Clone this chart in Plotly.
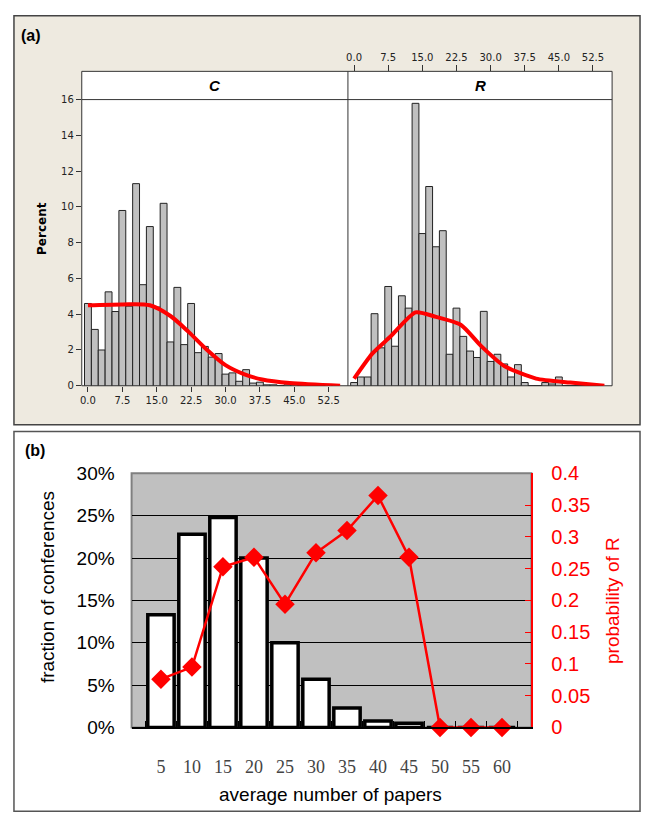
import plotly.graph_objects as go

W, H = 647, 827

# ---------------- panel (a) data ----------------
bin_centers = [0.0, 1.5, 3.0, 4.5, 6.0, 7.5, 9.0, 10.5, 12.0, 13.5, 15.0, 16.5, 18.0,
               19.5, 21.0, 22.5, 24.0, 25.5, 27.0, 28.5, 30.0, 31.5, 33.0, 34.5, 36.0,
               37.5, 39.0, 40.5, 42.0, 43.5, 45.0, 46.5, 48.0, 49.5, 51.0, 52.5, 54.0]
pct_C = [4.6, 3.15, 2.0, 5.25, 4.15, 9.8, 4.45, 11.3, 5.65, 8.9, 4.4, 10.2, 2.45,
         5.5, 2.3, 4.6, 1.85, 2.2, 1.6, 1.8, 0.65, 0.72, 0.25, 0.9, 0.15,
         0.2, 0.05, 0.05, 0.0, 0.05, 0.05, 0.0, 0.0, 0.0, 0.0, 0.05, 0.05]
pct_R = [0.18, 0.49, 0.49, 4.03, 2.12, 5.55, 2.21, 5.03, 4.34, 15.79, 8.51, 11.14, 7.77,
         8.67, 1.76, 4.34, 2.76, 1.94, 1.58, 4.16, 1.36, 1.76, 1.22, 0.49, 1.18,
         0.18, 0.0, 0.0, 0.18, 0.1, 0.49, 0.0, 0.0, 0.0, 0.0, 0.0, 0.0]
curve_C_x = [0.0, 7.5, 13.5, 18.0, 22.0, 26.0, 30.0, 34.0, 38.0, 44.0, 55.0]
curve_C_y = [4.5, 4.55, 4.5, 3.9, 3.0, 2.0, 1.15, 0.65, 0.35, 0.15, 0.0]
curve_R_x = [0.0, 4.0, 8.0, 13.5, 18.0, 23.5, 28.0, 33.0, 40.0, 47.5, 55.0]
curve_R_y = [0.4, 1.8, 2.75, 4.1, 3.85, 3.4, 2.2, 1.1, 0.4, 0.18, 0.0]
ticks_a = [0.0, 7.5, 15.0, 22.5, 30.0, 37.5, 45.0, 52.5]
ticklabels_a = ["0.0", "7.5", "15.0", "22.5", "30.0", "37.5", "45.0", "52.5"]
ticks_pct = [0, 2, 4, 6, 8, 10, 12, 14, 16]

# ---------------- panel (b) data ----------------
paper_sizes = ["5", "10", "15", "20", "25", "30", "35", "40", "45", "50", "55", "60"]
fraction_conf = [13.3, 22.8, 24.8, 20.0, 10.0, 5.7, 2.3, 0.75, 0.5, 0, 0, 0]
prob_R = [0.076, 0.095, 0.253, 0.268, 0.194, 0.275, 0.310, 0.365, 0.268, 0.0, 0.0, 0.0]
frac_ticks = [0, 5, 10, 15, 20, 25, 30]
frac_ticktext = ["0%", "5%", "10%", "15%", "20%", "25%", "30%"]
prob_ticks = [0, 0.05, 0.1, 0.15, 0.2, 0.25, 0.3, 0.35, 0.4]
prob_ticktext = ["0", "0.05", "0.1", "0.15", "0.2", "0.25", "0.3", "0.35", "0.4"]


def px(x):
    return x / W


def py(y):
    return 1 - y / H


fig = go.Figure()

bar_gray = "#C0C0C0"
fig.add_trace(go.Bar(x=bin_centers, y=pct_C, width=1.5, xaxis="x", yaxis="y",
                     marker=dict(color=bar_gray, line=dict(color="#222", width=1))))
fig.add_trace(go.Scatter(x=curve_C_x, y=curve_C_y, xaxis="x", yaxis="y", mode="lines",
                         line=dict(color="#FF0000", width=4, shape="spline", smoothing=0.8)))
fig.add_trace(go.Bar(x=bin_centers, y=pct_R, width=1.5, xaxis="x2", yaxis="y2",
                     marker=dict(color=bar_gray, line=dict(color="#222", width=1))))
fig.add_trace(go.Scatter(x=curve_R_x, y=curve_R_y, xaxis="x2", yaxis="y2", mode="lines",
                         line=dict(color="#FF0000", width=4, shape="spline", smoothing=0.6)))

fig.add_trace(go.Bar(x=paper_sizes, y=fraction_conf, xaxis="x3", yaxis="y3",
                     marker=dict(color="white", line=dict(color="black", width=3.5))))
fig.add_trace(go.Scatter(x=paper_sizes, y=prob_R, xaxis="x3", yaxis="y4",
                         mode="lines+markers", cliponaxis=False,
                         line=dict(color="#FF0000", width=2.5),
                         marker=dict(symbol="diamond", size=15, color="#FF0000")))

tickfont_a = dict(family="DejaVu Sans", size=10, color="#222")
xr = [-1.35, 56.7]

fig.update_layout(
    width=W, height=H,
    margin=dict(l=0, r=0, t=0, b=0),
    paper_bgcolor="white",
    plot_bgcolor="rgba(0,0,0,0)",
    showlegend=False,
    bargap=0.15,
    xaxis=dict(domain=[px(80), px(347)], range=xr, anchor="y",
               tickvals=ticks_a, ticktext=ticklabels_a, ticks="outside", ticklen=5,
               tickcolor="#333", tickfont=tickfont_a, showgrid=False, zeroline=False,
               showline=False),
    yaxis=dict(domain=[py(385), py(91)], range=[0, 16], anchor="x",
               tickvals=ticks_pct, ticks="outside", ticklen=5,
               tickcolor="#333", tickfont=tickfont_a, showgrid=False, zeroline=False),
    xaxis2=dict(domain=[px(347), px(612)], range=xr, anchor="free", position=py(62),
                side="top", tickvals=ticks_a, ticktext=ticklabels_a, ticks="outside",
                ticklen=6, tickcolor="#333", tickfont=tickfont_a, showgrid=False,
                zeroline=False),
    yaxis2=dict(domain=[py(385), py(91)], range=[0, 16], anchor="x2",
                showticklabels=False, ticks="", showgrid=False, zeroline=False),
    xaxis3=dict(domain=[px(130), px(531)], anchor="y3", type="category",
                ticks="inside", tickson="boundaries", ticklen=6, tickcolor="black",
                showline=True, linecolor="black", linewidth=2, showgrid=False,
                tickfont=dict(family="Liberation Serif", size=18, color="#444"),
                ticklabelstandoff=22),
    yaxis3=dict(domain=[py(736), py(475)], range=[0, 30], anchor="x3",
                tickvals=frac_ticks, ticktext=frac_ticktext,
                ticks="inside", ticklen=5, tickcolor="black",
                showgrid=True, gridcolor="black", gridwidth=1, zeroline=False,
                tickfont=dict(family="Liberation Sans", size=19, color="black"),
                ticklabelstandoff=16),
    yaxis4=dict(domain=[py(736), py(475)], range=[0, 0.4], anchor="x3",
                overlaying="y3", side="right",
                tickvals=prob_ticks, ticktext=prob_ticktext,
                ticks="inside", ticklen=6, tickcolor="#FF0000",
                showline=True, linecolor="#FF0000", linewidth=2,
                showgrid=False, zeroline=False,
                tickfont=dict(family="Liberation Sans", size=20, color="#FF0000"),
                ticklabelstandoff=14),
)

shapes = [
    dict(type="rect", xref="paper", yref="paper", x0=px(12), x1=px(640), y0=py(425), y1=py(5),
         fillcolor="#EEEAE0", line=dict(color="#444", width=1.5), layer="below"),
    dict(type="rect", xref="paper", yref="paper", x0=px(80), x1=px(612), y0=py(385), y1=py(62),
         fillcolor="white", line=dict(color="#333", width=1), layer="below"),
    dict(type="line", xref="paper", yref="paper", x0=px(80), x1=px(612), y0=py(91), y1=py(91),
         line=dict(color="#333", width=1), layer="above"),
    dict(type="line", xref="paper", yref="paper", x0=px(347), x1=px(347), y0=py(385), y1=py(62),
         line=dict(color="#333", width=1), layer="above"),
    dict(type="rect", xref="paper", yref="paper", x0=px(12), x1=px(640), y0=py(822), y1=py(432),
         fillcolor="white", line=dict(color="#555", width=1.5), layer="below"),
    dict(type="rect", xref="paper", yref="paper", x0=px(130), x1=px(531), y0=py(736), y1=py(475),
         fillcolor="#C0C0C0", line=dict(color="#808080", width=2), layer="below"),
]
fig.update_layout(shapes=shapes)

annotations = [
    dict(text="<b>(a)</b>", x=px(17), y=py(25), xref="paper", yref="paper",
         xanchor="left", yanchor="middle", showarrow=False,
         font=dict(family="Liberation Sans", size=16, color="black")),
    dict(text="<b>(b)</b>", x=px(21), y=py(452), xref="paper", yref="paper",
         xanchor="left", yanchor="middle", showarrow=False,
         font=dict(family="Liberation Sans", size=16, color="black")),
    dict(text="<b><i>C</i></b>", x=px(213.5), y=py(76.5), xref="paper", yref="paper",
         xanchor="center", yanchor="middle", showarrow=False,
         font=dict(family="Liberation Sans", size=15, color="black")),
    dict(text="<b><i>R</i></b>", x=px(479.5), y=py(76.5), xref="paper", yref="paper",
         xanchor="center", yanchor="middle", showarrow=False,
         font=dict(family="Liberation Sans", size=15, color="black")),
    dict(text="<b>Percent</b>", x=px(40), y=py(223), xref="paper", yref="paper",
         xanchor="center", yanchor="middle", showarrow=False, textangle=-90,
         font=dict(family="DejaVu Sans", size=12, color="black")),
    dict(text="fraction of conferences", x=px(45), y=py(592), xref="paper", yref="paper",
         xanchor="center", yanchor="middle", showarrow=False, textangle=-90,
         font=dict(family="Liberation Sans", size=19, color="black")),
    dict(text="probability of R", x=px(613), y=py(606), xref="paper", yref="paper",
         xanchor="center", yanchor="middle", showarrow=False, textangle=-90,
         font=dict(family="Liberation Sans", size=19, color="#FF0000")),
    dict(text="average number of papers", x=px(330), y=py(805), xref="paper", yref="paper",
         xanchor="center", yanchor="middle", showarrow=False,
         font=dict(family="Liberation Sans", size=19, color="black")),
]
fig.update_layout(annotations=annotations)

fig.write_html("out.html", config={"displayModeBar": False},
               post_script="document.body.style.margin='0';document.body.style.padding='0';")
